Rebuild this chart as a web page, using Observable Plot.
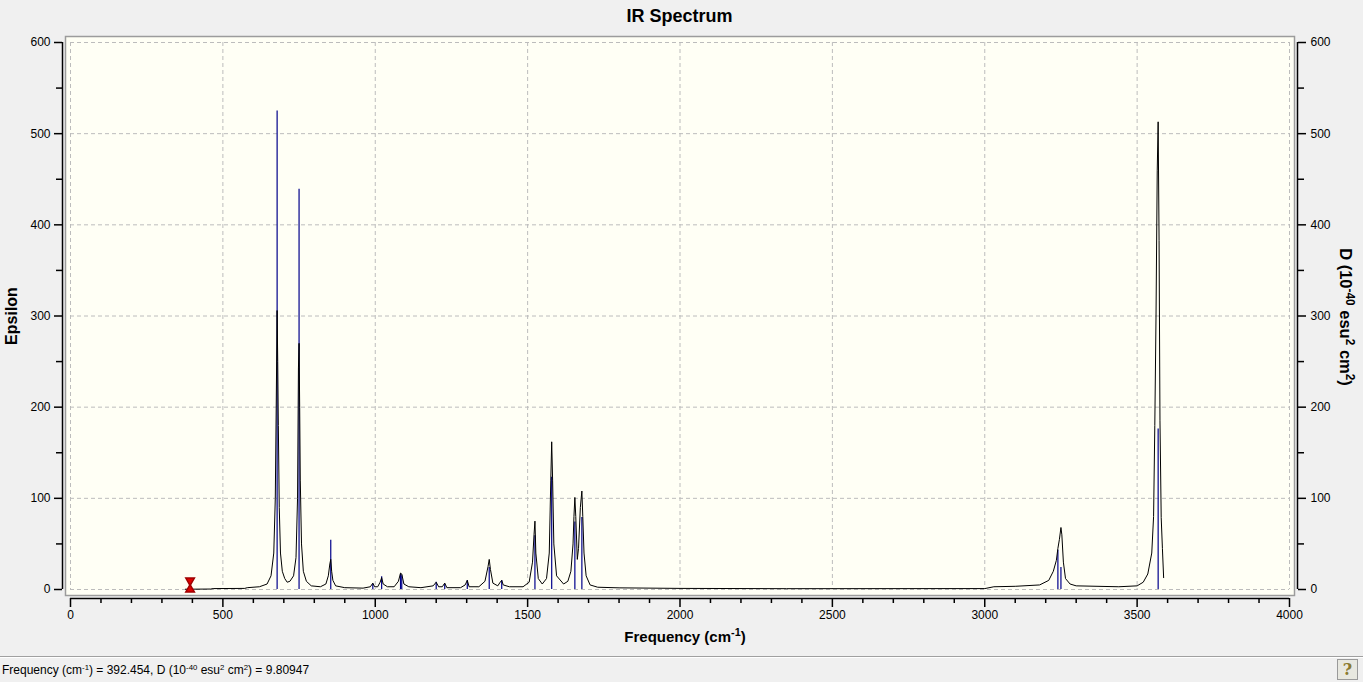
<!DOCTYPE html>
<html>
<head>
<meta charset="utf-8">
<script src="https://cdn.jsdelivr.net/npm/d3@7"></script>
<script src="https://cdn.jsdelivr.net/npm/@observablehq/plot@0.6"></script>
<style>
  body { margin: 0; background: #f0f0f0; font-family: "Liberation Sans", Arial, sans-serif; }
  #wrap { position: relative; width: 1363px; height: 682px; overflow: hidden; }
  #chart { position: absolute; left: 0; top: 0; }
  .lab { position: absolute; font-weight: bold; color: #000; white-space: nowrap; }
  .lab sup { font-size: 0.72em; vertical-align: 0.55em; line-height: 0; }
  #status sup { font-size: 0.65em; vertical-align: 0.55em; line-height: 0; }
  #title { left: 0; width: 1363px; top: 6px; text-align: center; font-size: 18px; }
  #title span { position: relative; left: -2px; }
  #xlab { left: 0; width: 1370px; top: 628px; text-align: center; font-size: 15px; }
  #ylab { left: 12px; top: 316px; font-size: 16px; transform: translate(-50%, -50%) rotate(-90deg); }
  #y2lab { left: 1345px; top: 317px; font-size: 16.5px; transform: translate(-50%, -50%) rotate(90deg); }
  #sep { position: absolute; left: 0; top: 656px; width: 1363px; height: 1px; background: #a0a0a0; border-bottom: 1px solid #fff; }
  #status { position: absolute; left: 2px; top: 663px; font-size: 12px; color: #000; white-space: nowrap; }
  #help { position: absolute; left: 1337px; top: 659px; width: 19px; height: 19px; border: 1px solid #9a9a9a;
          background: #e8e8e0; font: bold 16px "DejaVu Serif", serif; color: #8a7a30; text-align: center; line-height: 19px; }
</style>
</head>
<body>
<div id="wrap">
  <div id="chart"></div>
  <div id="title" class="lab"><span>IR Spectrum</span></div>
  <div id="ylab" class="lab">Epsilon</div>
  <div id="y2lab" class="lab">D (10<sup>-40</sup> esu<sup>2</sup> cm<sup>2</sup>)</div>
  <div id="xlab" class="lab">Frequency (cm<sup>-1</sup>)</div>
  <div id="sep"></div>
  <div id="status">Frequency (cm<sup>-1</sup>) = 392.454, D (10<sup>-40</sup> esu<sup>2</sup> cm<sup>2</sup>) = 9.80947</div>
  <div id="help">?</div>
</div>
<script>
// broadened spectrum (frequency cm-1, epsilon)
const curveFreq = [377, 460, 468, 572, 580, 620, 645, 658, 667, 672, 675, 678, 680, 682, 685, 689, 695, 703, 711,
  720, 732, 740, 745, 748, 750, 752, 754, 758, 764, 774, 790, 820, 838, 846, 851, 854, 857, 861, 870, 900,
  960, 984, 992, 998, 1008, 1016, 1021, 1026, 1040, 1062, 1076, 1083, 1087, 1094, 1110, 1150, 1190, 1200,
  1208, 1220, 1228, 1235, 1280, 1295, 1302, 1308, 1340, 1360, 1370, 1374, 1378, 1386, 1402, 1410, 1415,
  1420, 1440, 1485, 1505, 1516, 1521, 1524, 1527, 1535, 1548, 1562, 1571, 1576, 1579, 1582, 1586, 1595,
  1618, 1632, 1642, 1649, 1652, 1655, 1658, 1663, 1667, 1673, 1678, 1681, 1685, 1692, 1705, 1730, 1800,
  2000, 2350, 3000, 3030, 3100, 3180, 3210, 3225, 3235, 3240, 3245, 3250, 3253, 3258, 3265, 3280, 3300,
  3440, 3500, 3520, 3535, 3548, 3554, 3558, 3562, 3566, 3569, 3572, 3575, 3579, 3583, 3587];
const curveEps = [0.3, 0.5, 1, 1.2, 2, 3, 6, 15, 40, 100, 200, 306, 250, 180, 90, 40, 20, 12, 8,
  9, 15, 35, 100, 243, 270, 200, 120, 50, 20, 9, 4, 3, 6, 15, 28, 33, 20, 10, 4, 2,
  1.5, 3, 7, 3, 3, 8, 13, 6, 3, 3, 9, 18, 17, 6, 3, 2, 4, 8,
  3, 3, 7, 2, 2, 5, 10, 3, 3, 9, 25, 33, 22, 7, 4, 8, 10,
  5, 3, 3, 8, 30, 60, 75, 40, 12, 6, 12, 40, 120, 162, 120, 50, 15,
  6, 9, 20, 50, 80, 101, 80, 33, 45, 90, 108, 80, 40, 15, 5, 2.5, 1.8,
  1.2, 0.9, 1, 3, 3.5, 5, 10, 20, 32, 45, 55, 68, 60, 30, 12, 6, 4,
  3, 4, 8, 17, 40, 80, 180, 300, 460, 513, 383, 185, 79, 45, 13];

// stick spectrum (frequency cm-1, D 10^-40 esu^2 cm^2)
const stickFreq = [678, 750, 854, 992, 1021, 1083, 1087, 1200, 1228, 1302, 1374, 1415, 1524, 1579, 1655, 1678, 3240, 3250, 3569];
const stickD = [525, 439, 54, 6, 14, 17, 15, 8, 6, 10, 24, 10, 59, 123, 74, 79, 43, 24, 176];

// cursor marker
const markerFreq = 392.454;
const markerD = 9.80947;

const xMajor = d3.range(0, 4001, 500);
const xMinor = d3.range(100, 4000, 100).filter(v => v % 500 !== 0);
const yMajor = d3.range(0, 601, 100);
const yMinor = d3.range(50, 600, 100);

const curve = curveFreq.map((f, i) => ({f, e: curveEps[i]}));
const sticks = stickFreq.map((f, i) => ({f, d: stickD[i]}));
const marker = [{f: markerFreq, d: markerD}];

const axisStyle = {stroke: "#000", strokeWidth: 1.5, fill: "#000", label: null};
const plain = d => String(d);

const chart = Plot.plot({
  width: 1363,
  height: 655,
  marginLeft: 70,
  marginRight: 74,
  marginTop: 42,
  marginBottom: 66,
  style: {background: "transparent", fontSize: "12px", fontFamily: '"Liberation Sans", Arial, sans-serif', color: "#000"},
  x: {domain: [0, 4000]},
  y: {domain: [0, 600]},
  marks: [
    Plot.frame({fill: "#fffff5", stroke: "#9c9c9c", strokeWidth: 1.5, insetLeft: -5, insetRight: -5, insetTop: -6, insetBottom: -6}),
    Plot.gridX(xMajor, {stroke: "#bcbcbc", strokeOpacity: 1, strokeDasharray: "4,3"}),
    Plot.gridY(yMajor, {stroke: "#bcbcbc", strokeOpacity: 1, strokeDasharray: "4,3"}),
    Plot.ruleX(sticks, {x: "f", y1: 0, y2: "d", stroke: "#00008b", strokeWidth: 1.2}),
    Plot.line(curve, {x: "f", y: "e", stroke: "#000", strokeWidth: 1}),
    Plot.ruleX(marker, {x: "f", y1: 0, y2: "d", stroke: "#e00000", strokeWidth: 1.5}),
    Plot.dot(marker, {x: "f", y: "d", symbol: "triangle", rotate: 180, r: 3.2, fill: "#e00000", stroke: "#a00000"}),
    Plot.dot(marker, {x: "f", y: 0, symbol: "triangle", r: 3.2, fill: "#e00000", stroke: "#a00000"}),
    // axis lines
    Plot.ruleX([0], {y1: 0, y2: 600, dx: -8, stroke: "#000", strokeWidth: 1.5}),
    Plot.ruleX([4000], {y1: 0, y2: 600, dx: 8, stroke: "#000", strokeWidth: 1.5}),
    Plot.ruleY([0], {x1: 0, x2: 4000, dy: 9, stroke: "#000", strokeWidth: 1.5}),
    // left
    Plot.axisY(yMajor, {...axisStyle, anchor: "left", tickSize: 8, tickPadding: 4, dx: -8, tickFormat: plain}),
    Plot.axisY(yMinor, {...axisStyle, anchor: "left", tickSize: 6, tickFormat: () => "", dx: -8}),
    // right
    Plot.axisY(yMajor, {...axisStyle, anchor: "right", tickSize: 8, tickPadding: 5, dx: 8, tickFormat: plain}),
    Plot.axisY(yMinor, {...axisStyle, anchor: "right", tickSize: 6, tickFormat: () => "", dx: 8}),
    // bottom
    Plot.axisX(xMajor, {...axisStyle, anchor: "bottom", tickSize: 9, tickPadding: 3, dy: 9, tickFormat: plain}),
    Plot.axisX(xMinor, {...axisStyle, anchor: "bottom", tickSize: 5, tickFormat: () => "", dy: 9})
  ]
});
document.getElementById("chart").append(chart);
</script>
</body>
</html>
